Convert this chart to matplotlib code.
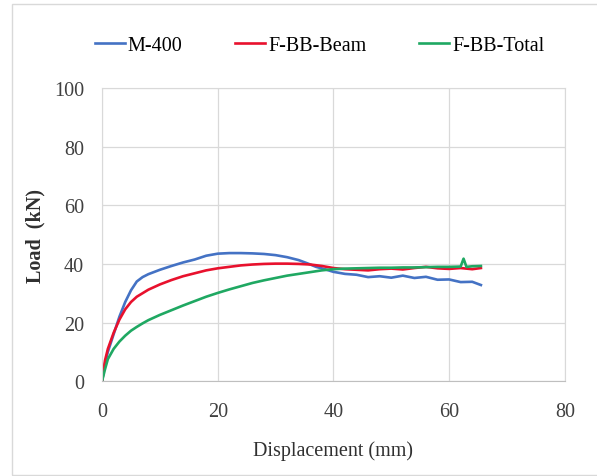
import matplotlib
matplotlib.use("Agg")
import matplotlib.pyplot as plt
from matplotlib.patches import Rectangle

plt.rcParams['font.family'] = ['Liberation Serif', 'DejaVu Serif']

# M-400
m400_x = [0, 0.5, 1, 2, 3, 4, 5, 6, 7, 8, 10, 12, 14, 16, 18, 20, 22, 24, 26, 28,
          30, 32, 34, 35.5, 37, 38.5, 40, 42, 44, 46, 48, 50, 52, 54, 56, 58, 60, 62, 64, 65.5]
m400_y = [0, 6, 10, 16, 22, 27, 31, 34, 35.5, 36.5, 38, 39.3, 40.5, 41.5, 42.8, 43.5, 43.7, 43.7, 43.6, 43.4,
          43, 42.3, 41.3, 40.2, 39, 38.2, 37.3, 36.6, 36.3, 35.5, 35.8, 35.3, 36, 35.2, 35.6, 34.6, 34.7, 33.8, 33.9, 32.8]

# F-BB-Beam
beam_x = [0, 0.5, 1, 2, 3, 4, 5, 6, 7, 8, 10, 12, 14, 16, 18, 20, 22, 24, 26, 28,
          30, 32, 34, 36, 38, 40, 42, 44, 46, 48, 50, 52, 54, 56, 58, 60, 62, 64, 65.5]
beam_y = [0, 7, 11, 16.5, 21, 24.5, 27, 28.8, 30, 31.2, 33, 34.5, 35.8, 36.8, 37.8, 38.5, 39, 39.5, 39.8, 40,
          40.1, 40.1, 40, 39.8, 39.3, 38.6, 38.2, 38, 37.8, 38.2, 38.4, 38.1, 38.6, 39, 38.5, 38.3, 38.6, 38.2, 38.6]

# F-BB-Total
total_x = [0, 0.5, 1, 2, 3, 4, 5, 6, 7, 8, 10, 12, 14, 16, 18, 20, 22, 24, 26, 28,
           30, 32, 34, 36, 38, 40, 42, 44, 46, 48, 50, 52, 54, 56, 58, 60, 62, 62.5, 63, 64, 65.5]
total_y = [0, 4, 7.5, 11, 13.5, 15.5, 17.2, 18.5, 19.7, 20.8, 22.6, 24.2, 25.8, 27.3, 28.8, 30.1, 31.3, 32.4, 33.5, 34.4,
           35.2, 36, 36.6, 37.2, 37.8, 38.2, 38.4, 38.5, 38.6, 38.7, 38.7, 38.8, 38.8, 38.9, 39, 39, 39.1, 41.8, 39, 39.2, 39.3]

fig = plt.figure(figsize=(5.97, 4.77), dpi=100)
ax = fig.add_axes([0.171, 0.199, 0.775, 0.614])

ax.plot(m400_x, m400_y, color='#4472C4', lw=1.9, label='M-400')
ax.plot(beam_x, beam_y, color='#E8112D', lw=1.9, label='F-BB-Beam')
ax.plot(total_x, total_y, color='#1FA862', lw=1.9, label='F-BB-Total')

ax.set_xlim(0, 80)
ax.set_ylim(0, 100)
ax.set_xticks([0, 20, 40, 60, 80])
ax.set_yticks([0, 20, 40, 60, 80, 100])
ax.grid(True, color='#D9D9D9', lw=0.9)
ax.set_axisbelow(True)
for s in ['top', 'right', 'left']:
    ax.spines[s].set_color('#D9D9D9')
ax.spines['bottom'].set_color('#BFBFBF')
ax.tick_params(length=0, labelsize=14.5, colors='#404040')
ax.tick_params(axis='x', pad=15)
ax.tick_params(axis='y', pad=13)

ax.set_xlabel('Displacement (mm)', fontsize=14.5, color='#303030', labelpad=14)
ax.set_ylabel('Load  (kN)', fontsize=14.5, fontweight='bold', color='#303030', labelpad=6)

fig.legend(loc='center', bbox_to_anchor=(0.535, 0.903), ncol=3, frameon=False,
           fontsize=14.5, handlelength=1.5, handletextpad=0.15, columnspacing=2.6)

fig.patches.append(Rectangle((0.02, 0.003), 0.985, 0.987, transform=fig.transFigure,
                             fill=False, edgecolor='#D9D9D9', lw=1))

fig.savefig('out.png', dpi=100)
